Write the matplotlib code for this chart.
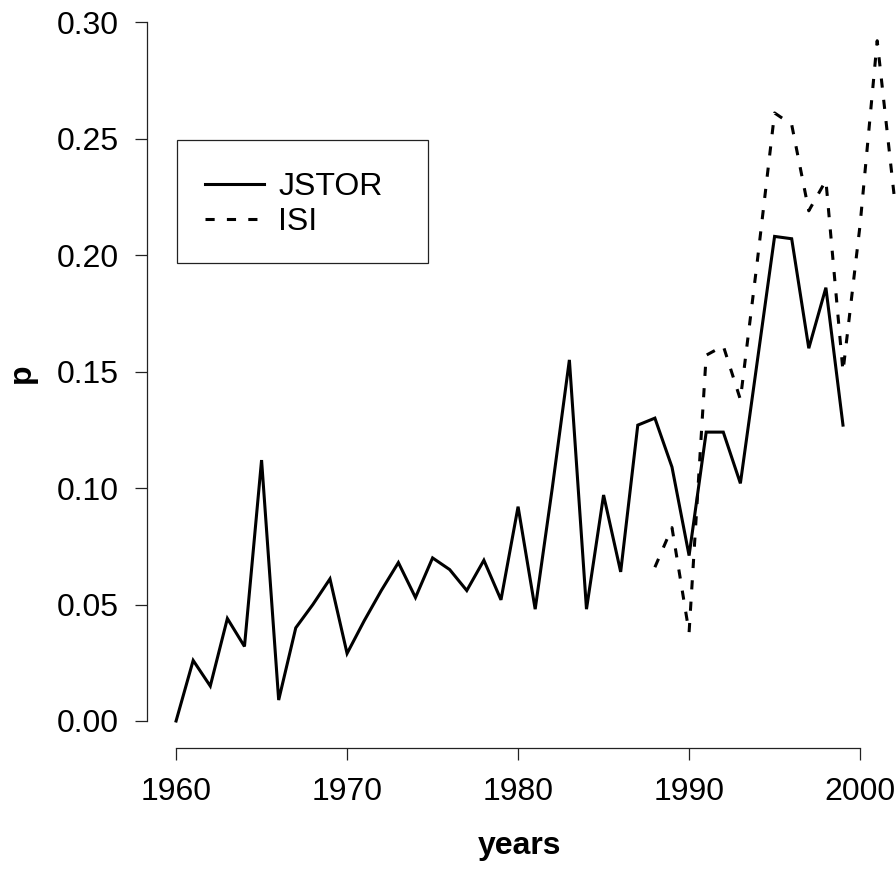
import matplotlib
matplotlib.use("Agg")
import matplotlib.pyplot as plt
from matplotlib.patches import Rectangle

plt.rcParams["font.family"] = ["Liberation Sans", "DejaVu Sans"]

# Share of articles per year, from the JSTOR archive and from ISI
jstor_years = list(range(1960, 2000))
jstor_p = [0.000, 0.026, 0.015, 0.044, 0.032, 0.112, 0.009, 0.040, 0.050, 0.061,
           0.029, 0.043, 0.056, 0.068, 0.053, 0.070, 0.065, 0.056, 0.069, 0.052,
           0.092, 0.048, 0.100, 0.155, 0.048, 0.097, 0.064, 0.127, 0.130, 0.109,
           0.071, 0.124, 0.124, 0.102, 0.155, 0.208, 0.207, 0.160, 0.186, 0.127]

isi_years = list(range(1988, 2003))
isi_p = [0.066, 0.083, 0.038, 0.157, 0.161, 0.138, 0.198, 0.261, 0.256, 0.219,
         0.232, 0.150, 0.213, 0.292, 0.225]

x_ticks = [1960, 1970, 1980, 1990, 2000]
y_ticks = [0.00, 0.05, 0.10, 0.15, 0.20, 0.25, 0.30]

W, H = 896, 884
FS = 23
fig = plt.figure(figsize=(W / 100, H / 100), dpi=100)
fig.patch.set_facecolor("white")

# plot region in pixels: left 147, right 896, top 13, bottom 748
ax = fig.add_axes([147 / W, (H - 748) / H, (896 - 147) / W, (748 - 13) / H])
ax.set_xlim(1958.30, 2002.1)
ax.set_ylim(-0.01159, 0.3039)

ax.plot(jstor_years, jstor_p, color="black", lw=2.2, solid_joinstyle="miter",
        label="JSTOR")
ax.plot(isi_years, isi_p, color="black", lw=2.2, linestyle=(0, (3.0, 4.0)),
        label="ISI")

for s in ["top", "right"]:
    ax.spines[s].set_visible(False)
ax.spines["left"].set_bounds(0.0, 0.30)
ax.spines["bottom"].set_bounds(1960, 2000)
for s in ["left", "bottom"]:
    ax.spines[s].set_linewidth(0.9)
    ax.spines[s].set_color("#222222")

ax.set_xticks(x_ticks)
ax.set_xticklabels([str(v) for v in x_ticks])
ax.set_yticks(y_ticks)
ax.set_yticklabels([f"{v:.2f}" for v in y_ticks])
ax.tick_params(axis="both", direction="out", length=8.6, width=0.9,
               color="#222222", labelsize=FS)
ax.tick_params(axis="y", pad=12)
ax.tick_params(axis="x", pad=12)

fig.text(22 / W, 1 - 373 / H, "p", rotation=90, fontsize=FS, fontweight="bold",
         ha="center", va="center")
fig.text(520 / W, 1 - 846 / H, "years", fontsize=FS, fontweight="bold",
         ha="center", va="center")

# legend box
fig.patches.append(Rectangle((177 / W, 1 - 263 / H), (428 - 177) / W, (263 - 140) / H,
                             transform=fig.transFigure, fill=False,
                             edgecolor="#222222", lw=0.9))
leg = ax.legend(loc="upper left", bbox_to_anchor=(205 / W, 1 - 172 / H),
                bbox_transform=fig.transFigure, frameon=False, fontsize=FS,
                handlelength=1.85, handletextpad=0.45, borderpad=0,
                borderaxespad=0, labelspacing=0.15)

fig.savefig("out.png", dpi=100)
